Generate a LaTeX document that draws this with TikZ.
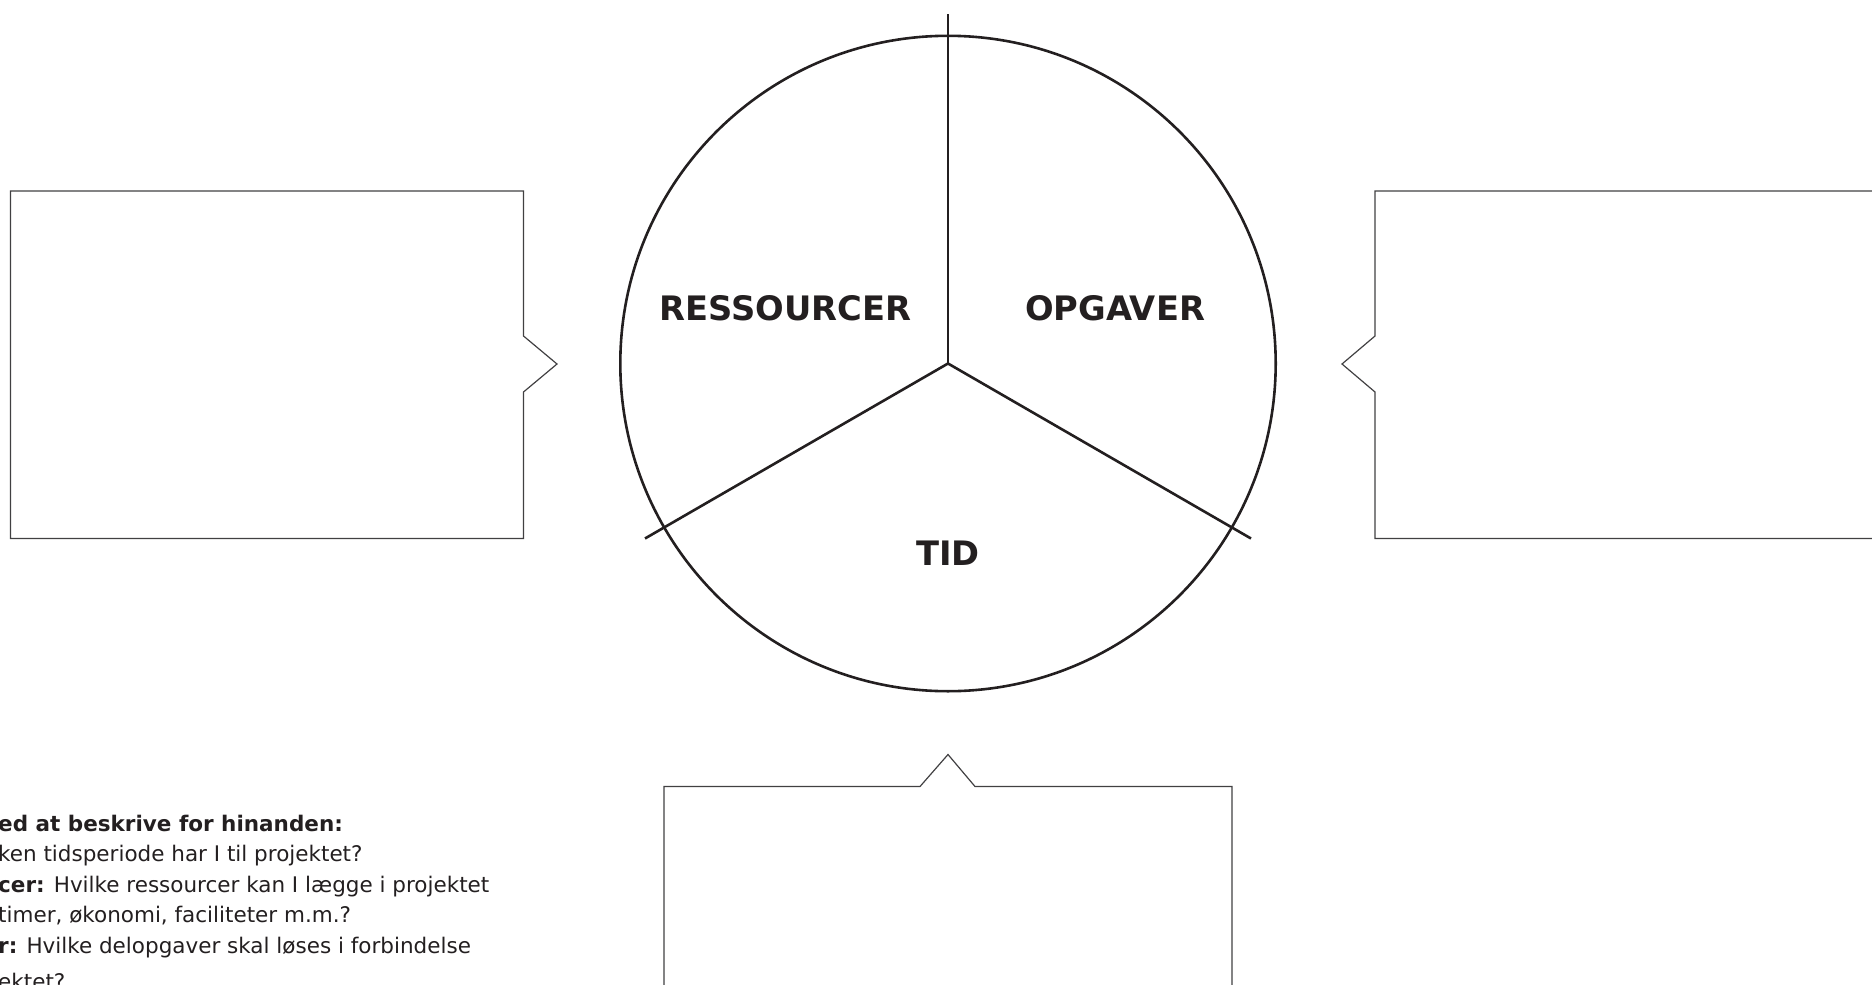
\documentclass[tikz,border=0pt]{standalone}
\usepackage{fontspec}
\setmainfont{DejaVu Sans}
\definecolor{ink}{HTML}{231F20}
\definecolor{boxline}{HTML}{414042}
\begin{document}
\begin{tikzpicture}[x=1pt,y=-1pt,
  wheel/.style={draw=ink,line width=2.6pt},
  callout/.style={draw=boxline,line width=1.2pt,line join=miter},
  biglabel/.style={text=ink,font=\fontsize{33.7}{40}\selectfont\bfseries,inner sep=0pt},
  note/.style={text=ink,font=\fontsize{21.5}{26}\selectfont,anchor=base west,inner sep=0pt}]
\useasboundingbox (0,0) rectangle (1872,985);
\clip (0,0) rectangle (1872,985);
% wheel
\coordinate (C) at (948,363.5);
\coordinate (top) at (948,13.5);
\coordinate (ll) at (645,538.5);
\coordinate (lr) at (1251,538.5);
\draw[wheel] (C) circle[radius=327.7];
\draw[wheel] (C) -- (top);
\draw[wheel] (C) -- (ll);
\draw[wheel] (C) -- (lr);
\node[biglabel] (res) at (785.5,308) {RESSOURCER};
\node[biglabel] (opg) at (1115,308) {OPGAVER};
\node[biglabel] (tid) at (948,553) {TID};
% callouts
\draw[callout] (10.5,191) -- (523.5,191) -- (523.5,336) -- (557,364) -- (523.5,392) -- (523.5,538.5) -- (10.5,538.5) -- cycle;
\draw[callout] (1885,191) -- (1375,191) -- (1375,336) -- (1342,364) -- (1375,392) -- (1375,538.5) -- (1885,538.5);
\draw[callout] (664,1000) -- (664,786.5) -- (920,786.5) -- (948,754.5) -- (975,786.5) -- (1232,786.5) -- (1232,1000);
% notes
\node[note,font=\fontsize{21.5}{26}\selectfont\bfseries] (n1) at (-2,831) {ed at beskrive for hinanden:};
\node[note] (n2) at (-2,861.6) {ken tidsperiode har I til projektet?};
\node[note] (n3) at (-2,892.2) {\textbf{cer:} Hvilke ressourcer kan I lægge i projektet};
\node[note] (n4) at (-2,922.8) {timer, økonomi, faciliteter m.m.?};
\node[note] (n5) at (-2,953.4) {\textbf{r:} Hvilke delopgaver skal løses i forbindelse};
\node[note] (n6) at (-2,989) {ektet?};
\end{tikzpicture}
\end{document}
